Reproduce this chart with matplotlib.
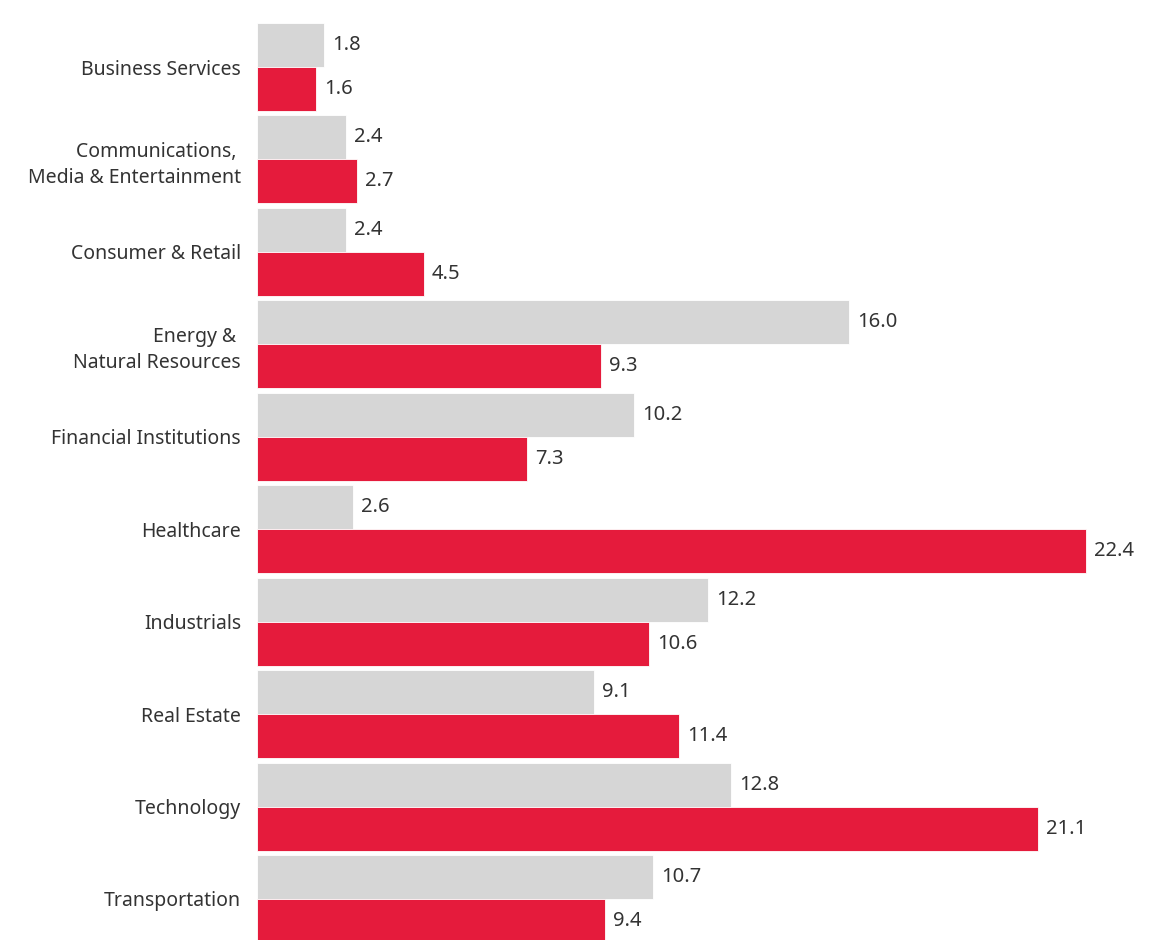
import matplotlib.pyplot as plt
import numpy as np

categories = ["Business Services", "Communications, \nMedia & Entertainment", "Consumer & Retail",
              "Energy & \nNatural Resources", "Financial Institutions", "Healthcare",
              "Industrials", "Real Estate", "Technology", "Transportation"]
grey_vals = [1.8, 2.4, 2.4, 16.0, 10.2, 2.6, 12.2, 9.1, 12.8, 10.7]
red_vals = [1.6, 2.7, 4.5, 9.3, 7.3, 22.4, 10.6, 11.4, 21.1, 9.4]

grey = '#d6d6d6'
red = '#e51b3c'
txt = '#333333'

fig = plt.figure(figsize=(11.62, 9.4), dpi=100)
ax = fig.add_axes([257/1162, 0, 1 - 257/1162, 1 - 23/940])

y = np.arange(len(categories))
h = 0.476
ax.barh(y - h/2, grey_vals, height=h, color=grey, edgecolor='white', linewidth=0.6)
ax.barh(y + h/2, red_vals, height=h, color=red, edgecolor='white', linewidth=0.6)

for i in range(len(categories)):
    ax.text(grey_vals[i] + 0.22, y[i] - h/2, f"{grey_vals[i]:.1f}", va='center', ha='left',
            fontsize=14.5, color=txt, family='Noto Sans')
    ax.text(red_vals[i] + 0.22, y[i] + h/2, f"{red_vals[i]:.1f}", va='center', ha='left',
            fontsize=14.5, color=txt, family='Noto Sans')

ax.set_yticks(y)
ax.set_yticklabels(categories, fontsize=14, color=txt, family='Noto Sans', ha='right',
                   linespacing=1.4)
ax.tick_params(axis='y', length=0, pad=11.5)
ax.set_xticks([])
ax.set_xlim(0, (1162 - 257) / 37.0)
ax.set_ylim(9 + h - 0.032, -h)
for s in ax.spines.values():
    s.set_visible(False)

fig.savefig('out.png', dpi=100)
